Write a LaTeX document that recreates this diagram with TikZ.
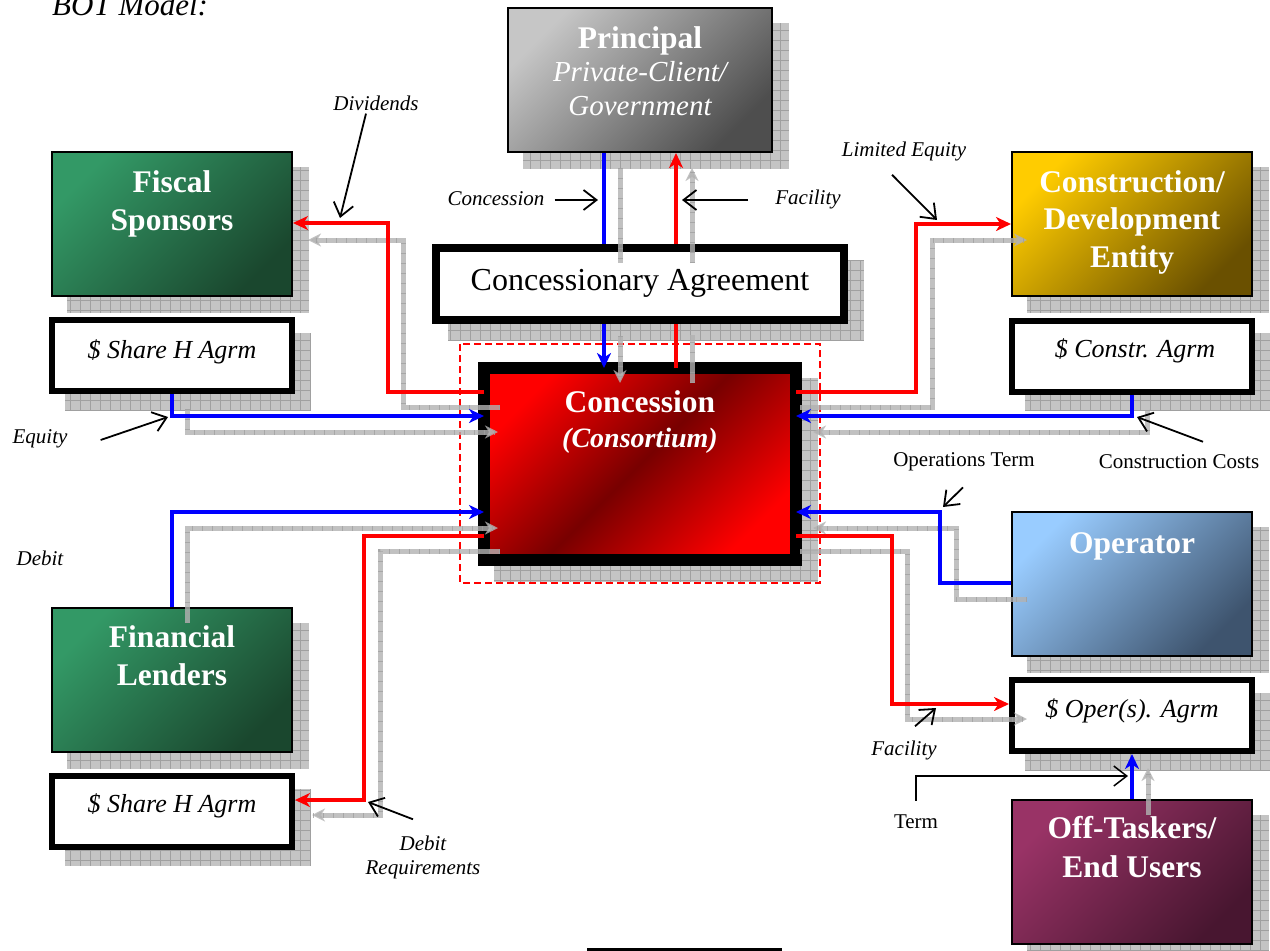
\documentclass[tikz,border=0pt]{standalone}
\usepackage{fontspec}
\setmainfont{Liberation Serif}
\usetikzlibrary{arrows.meta,calc}

\definecolor{greyA}{HTML}{C6C6C6}
\definecolor{greyB}{HTML}{4E4E4E}
\definecolor{greenA}{HTML}{339966}
\definecolor{greenB}{HTML}{1A472E}
\definecolor{goldA}{HTML}{FFCC00}
\definecolor{goldB}{HTML}{6A5000}
\definecolor{blueA}{HTML}{99CCFF}
\definecolor{blueB}{HTML}{3E546E}
\definecolor{plumA}{HTML}{993366}
\definecolor{plumB}{HTML}{481630}
\definecolor{concRed}{HTML}{FF0000}
\definecolor{concDark}{HTML}{780000}
\definecolor{shadowFill}{HTML}{C4C4C4}
\definecolor{shadowGrid}{HTML}{A0A0A0}
\definecolor{flowGrey}{HTML}{B2B2B2}
\definecolor{flowBlue}{HTML}{0000FF}
\definecolor{flowRed}{HTML}{FF0000}
\definecolor{frameYellow}{HTML}{F4E27C}

% checkered drop shadow behind a box: outer corners (x1,y1) (x2,y2)
\newcommand{\dropshadow}[4]{%
  \begin{scope}
    \clip (#1+16,#2+16) rectangle (#3+16,#4+16);
    \fill[shadowFill] (#1+16,#2+16) rectangle (#3+16,#4+16);
    \draw[shadowGrid, line width=0.7pt, step=10pt] (#1+16,#2+16) grid (#3+16,#4+16);
  \end{scope}}

\tikzset{
  box/.style={draw=black, inner sep=0pt},
  cbox/.style={box, line width=2pt, minimum width=240pt, minimum height=144pt},
  tbox/.style={box, fill=white, line width=6pt, minimum width=240pt, minimum height=71pt},
  % multi-line texts are anchored on the baseline of their last line
  boxtitle/.style={text=white, font=\fontsize{31.5}{38}\selectfont\bfseries, align=center, inner sep=0pt, anchor=base},
  boxsub/.style={text=white, font=\fontsize{29}{33.5}\selectfont\itshape, align=center, inner sep=0pt, anchor=base},
  agrmtext/.style={font=\fontsize{26}{30}\selectfont\itshape, inner sep=0pt, anchor=base},
  lbl/.style={font=\fontsize{21}{24}\selectfont\itshape, inner sep=2pt, align=center},
  lblup/.style={font=\fontsize{21}{24}\selectfont, inner sep=2pt},
  bflow/.style={draw=flowBlue, line width=4pt},
  rflow/.style={draw=flowRed, line width=4pt},
  gflow/.style={draw=flowGrey, line width=5pt, opacity=0.8,
    postaction={draw=shadowGrid, line width=5pt, dash pattern=on 0.8pt off 9.2pt, arrows=-}},
  tipc/.style={-{Stealth[length=15pt,width=14pt,inset=4.5pt]}},
  tipg/.style={-{Stealth[length=13pt,width=13pt,inset=4pt]}},
  callout/.style={draw=black, line width=1.8pt, -{Straight Barb[length=13pt,width=20pt]}},
}

\begin{document}
\begin{tikzpicture}[x=1pt,y=-1pt]
\useasboundingbox (0,0) rectangle (1270,951);
\clip (0,0) rectangle (1270,951);

% heading
\node[font=\fontsize{31}{37}\selectfont\itshape, anchor=base west, inner sep=0pt] (heading) at (52,15) {BOT Model:};

% drop shadows
\dropshadow{507}{7}{773}{153}
\dropshadow{51}{151}{293}{297}
\dropshadow{1011}{151}{1253}{297}
\dropshadow{1011}{511}{1253}{657}
\dropshadow{1011}{799}{1253}{945}
\dropshadow{51}{607}{293}{753}
\dropshadow{49}{317}{295}{394}
\dropshadow{49}{773}{295}{850}
\dropshadow{1009}{317}{1255}{395}
\dropshadow{1009}{677}{1255}{754}
\dropshadow{432}{244}{848}{324}
\dropshadow{478}{362}{802}{566}

% dashed frame round the consortium
\draw[flowRed, line width=1.6pt, dash pattern=on 7pt off 4pt] (460,344) rectangle (820,583);

% parties
\node[cbox, minimum width=264pt, top color=greyA, bottom color=greyB, shading angle=45] (princ) at (640,80) {};
\node[cbox, top color=greenA, bottom color=greenB, shading angle=45] (fiscal) at (172,224) {};
\node[cbox, top color=goldA, bottom color=goldB, shading angle=45] (constr) at (1132,224) {};
\node[cbox, top color=blueA, bottom color=blueB, shading angle=45] (oper) at (1132,584) {};
\node[cbox, top color=plumA, bottom color=plumB, shading angle=45] (offt) at (1132,872) {};
\node[cbox, top color=greenA, bottom color=greenB, shading angle=45] (finl) at (172,680) {};

% agreements
\node[tbox] (shareA) at (172,355.5) {};
\node[tbox] (shareB) at (172,811.5) {};
\node[tbox] (cagr) at (1132,356) {};
\node[tbox] (oagr) at (1132,715.5) {};
\node[box, fill=white, line width=8pt, minimum width=408pt, minimum height=72pt] (agree) at (640,284) {};

% concession company
\node[box, outer sep=0pt, line width=12pt, minimum width=312pt, minimum height=192pt,
      top color=concRed, bottom color=concRed, middle color=concDark, shading angle=45] (conc) at (640,464) {};

% partly visible box at the foot
\node[box, line width=3pt, fill=frameYellow, minimum width=192pt, minimum height=30pt, anchor=north] (foot) at (684.5,947.5) {};

% box texts
\node[boxtitle] (princT) at (640,48) {Principal};
\node[boxsub] (princS) at (640,115) {Private-Client/\\Government};
\node[boxtitle] (fiscalT) at (172,230) {Fiscal\\Sponsors};
\node[boxtitle, font=\fontsize{31.5}{37.5}\selectfont\bfseries] (constrT) at (1132,267) {Construction/\\Development\\Entity};
\node[boxtitle] (operT) at (1132,553) {Operator};
\node[boxtitle, font=\fontsize{31.5}{39}\selectfont\bfseries] (offtT) at (1132,877) {Off-Taskers/\\End Users};
\node[boxtitle] (finlT) at (172,685) {Financial\\Lenders};
\node[boxtitle] (concT) at (640,412) {Concession};
\node[boxtitle, font=\fontsize{28}{34}\selectfont\bfseries\itshape] (concS) at (640,447) {(Consortium)};
\node[agrmtext] (shareAT) at (172,358) {\$ Share H Agrm};
\node[agrmtext] (shareBT) at (172,812) {\$ Share H Agrm};
\node[agrmtext] (cagrT) at (1135,357) {\$ Constr. Agrm};
\node[agrmtext] (oagrT) at (1132,717) {\$ Oper(s). Agrm};
\node[font=\fontsize{32}{38}\selectfont, inner sep=0pt, anchor=base] (agreeT) at (640,290) {Concessionary Agreement};

% grey companion flows
\draw[gflow] ($(princ.south -| 620,0)+(0,15)$) -- ($(agree.north -| 620,0)+(0,19)$);
\draw[gflow,tipg] ($(agree.south -| 620,0)+(0,12)$) -- ($(conc.north -| 620,0)+(0,15)$);
\draw[gflow,tipg] ($(agree.north -| 692,0)+(0,19)$) -- ($(princ.south -| 692,0)+(0,15)$);
\draw[gflow] ($(conc.north -| 692,0)+(0,15)$) -- ($(agree.south -| 692,0)+(0,11)$);
\draw[gflow,tipg] ($(conc.west |- 0,407)+(16,0)$) -| (403,240) -- ($(fiscal.east |- 0,240)+(15,0)$);
\draw[gflow,tipg] ($(shareA.south)+(15,15)$) |- ($(conc.west |- 0,432)+(14,0)$);
\draw[gflow,tipg] ($(conc.east |- 0,407)+(4,0)$) -| (932,240) -- ($(constr.west |- 0,240)+(16,0)$);
\draw[gflow,tipg] ($(cagr.south)+(15,15)$) |- ($(conc.east |- 0,432)+(17,0)$);
\draw[gflow,tipg] ($(finl.north)+(15,16)$) |- ($(conc.west |- 0,528)+(14,0)$);
\draw[gflow,tipg] ($(conc.west |- 0,551)+(16,0)$) -| (380,815) -- ($(shareB.east |- 0,815)+(17,0)$);
\draw[gflow,tipg] ($(oper.west |- 0,599)+(16,0)$) -| (956,528) -- ($(conc.east |- 0,528)+(17,0)$);
\draw[gflow,tipg] ($(conc.east |- 0,551)+(4,0)$) -| (907,719) -- ($(oagr.west |- 0,719)+(18,0)$);
\draw[gflow,tipg] ($(offt.north)+(16,16)$) -- ($(oagr.south)+(16,14)$);

% concession and facility between principal, agreement and consortium
\draw[bflow] (princ.south -| 604,0) -- (agree.north -| 604,0);
\draw[bflow,tipc] (agree.south -| 604,0) -- (conc.north -| 604,0);
\draw[rflow,tipc] (agree.north -| 676,0) -- (princ.south -| 676,0);
\draw[rflow] (conc.north -| 676,0) -- (agree.south -| 676,0);

% money and service flows
\draw[rflow,tipc] (conc.west |- 0,392) -| (388,223) -- (fiscal.east |- 0,223);
\draw[bflow,tipc] (shareA.south) |- (conc.west |- 0,416);
\draw[rflow,tipc] (conc.east |- 0,392) -| (916,224) -- (constr.west |- 0,224);
\draw[bflow,tipc] (cagr.south) |- (conc.east |- 0,416);
\draw[bflow,tipc] (finl.north) |- (conc.west |- 0,512);
\draw[rflow,tipc] (conc.west |- 0,536) -| (364,800) -- (shareB.east |- 0,800);
\draw[bflow,tipc] (oper.west |- 0,583) -| (940,512) -- (conc.east |- 0,512);
\draw[rflow,tipc] (conc.east |- 0,536) -| (892,704) -- (oagr.west |- 0,704);
\draw[bflow,tipc] (offt.north) -- (oagr.south);

% flow labels
\node[lbl] (lDiv) at (376,103) {Dividends};
\node[lbl] (lConc) at (496,199) {Concession};
\node[lbl] (lFacA) at (808,199) {Facility};
\node[lbl] (lLim) at (904,151) {Limited Equity};
\node[lbl] (lEq) at (40,439) {Equity};
\node[lblup] (lCC) at (1179,462) {Construction Costs};
\node[lblup] (lOT) at (964,462) {Operations Term};
\node[lbl] (lDebit) at (40,558) {Debit};
\node[lbl] (lFacB) at (904,750) {Facility};
\node[lbl] (lDR) at (423,857) {Debit\\Requirements};
\node[lblup] (lTerm) at (916,822) {Term};

% pointers from labels to flows
\coordinate (kDiv) at (340,218);
\coordinate (kConc) at (598,200);
\coordinate (kFacA) at (682,200);
\coordinate (kLim) at (937,220);
\coordinate (kEq) at (168,417);
\coordinate (kCC) at (1137,417);
\coordinate (kOT) at (943,507);
\coordinate (kFacB) at (936,708);
\coordinate (kDR) at (368,802);
\coordinate (kTerm) at (1128,776);

\draw[callout] ($(lDiv.south)+(-10,1)$) -- (kDiv);
\draw[callout] ($(lConc.east)+(8,1)$) -- (kConc);
\draw[callout] ($(lFacA.west)+(-25,1)$) -- (kFacA);
\draw[callout] ($(lLim.south)+(-12,12)$) -- (kLim);
\draw[callout] ($(lEq.east)+(31,1)$) -- (kEq);
\draw[callout] ($(lCC.north)+(24,-11)$) -- (kCC);
\draw[callout] ($(lOT.south)+(-1,14)$) -- (kOT);
\draw[callout] ($(lFacB.north)+(11,-12)$) -- (kFacB);
\draw[callout] ($(lDR.north)+(-10,-14)$) -- (kDR);
\draw[callout, line width=1.5pt] ($(lTerm.north)+(0,-12)$) |- (kTerm);

\end{tikzpicture}
\end{document}
